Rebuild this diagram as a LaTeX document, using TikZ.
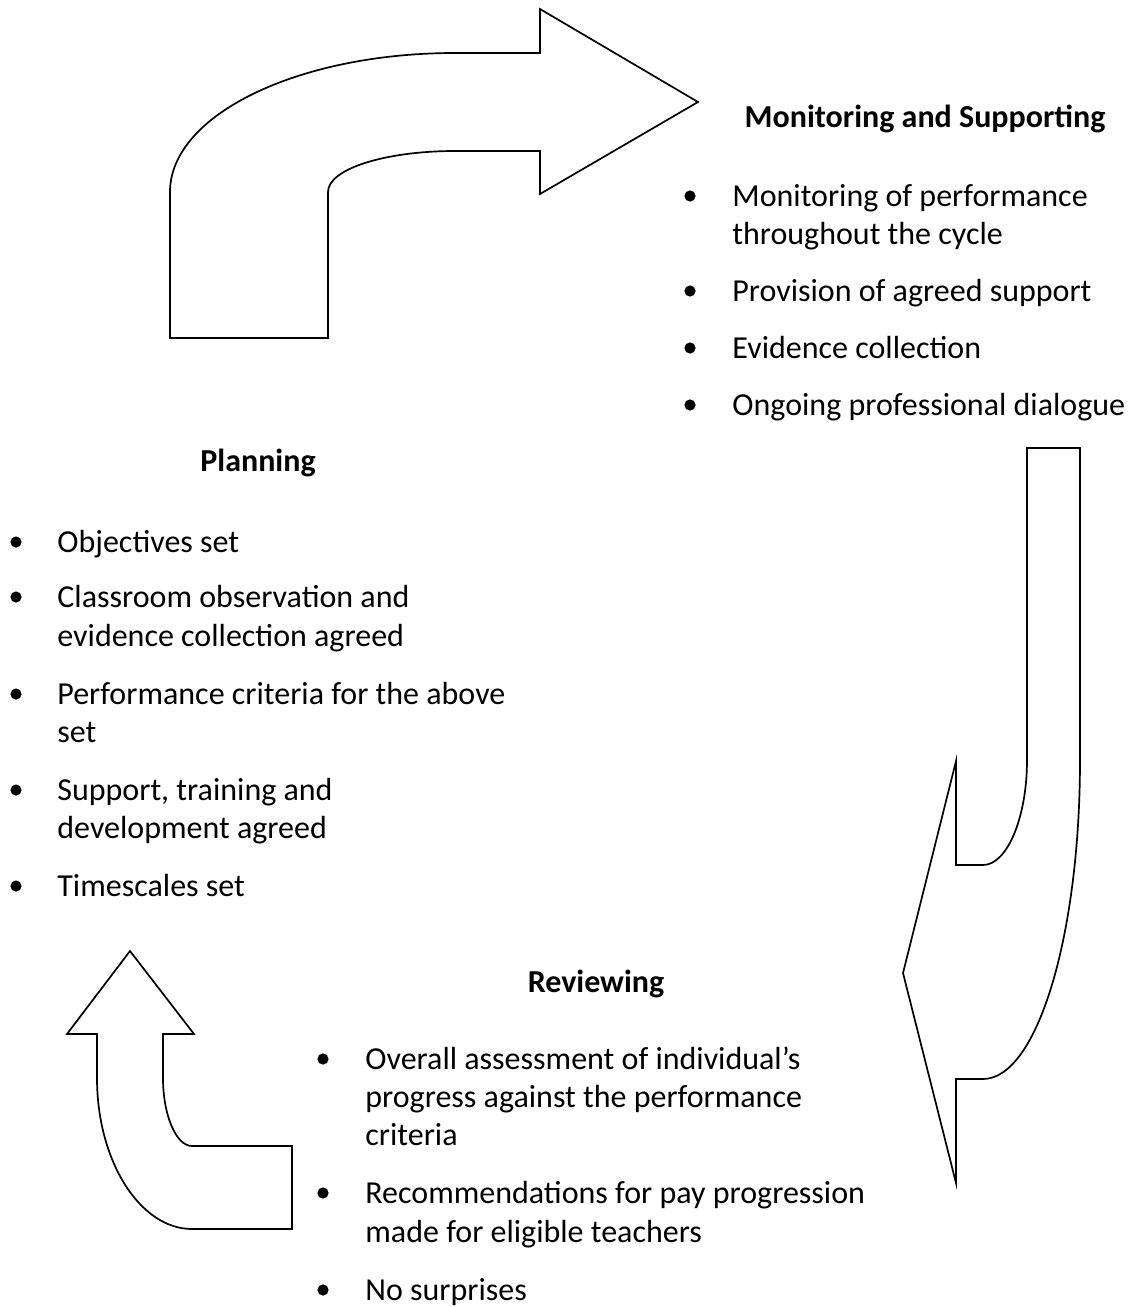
\documentclass[tikz,border=0pt]{standalone}
\usepackage{fontspec}
\setmainfont{Carlito}
\usetikzlibrary{arrows.meta,shapes}

\begin{document}
\begin{tikzpicture}[x=0.5pt,y=-0.5pt]
\useasboundingbox (0,0) rectangle (1138,1307);
\tikzstyle{bigarrow}=[draw=black,line width=0.85pt,line join=miter,fill=white]
\tikzstyle{head}=[inner sep=0pt,anchor=base,font=\fontsize{16}{19}\selectfont\bfseries]
\tikzstyle{txt}=[inner sep=0pt,anchor=base west,font=\fontsize{16}{19}\selectfont]
\tikzstyle{bul}=[circle,fill=black,inner sep=0pt,minimum size=5.6pt]
%top arrow (planning -> monitoring)
\draw[bigarrow] (170,338) -- (170,192) .. controls (170,115) and (298,53) .. (455,53) -- (540,53) -- (540,9) -- (698,102) -- (540,194) -- (540,151) -- (455,151) .. controls (385,151) and (328,169) .. (328,192) -- (328,338) -- cycle;
%right arrow (monitoring -> reviewing)
\draw[bigarrow] (1027,448) -- (1080,448) -- (1080,760) .. controls (1080,936) and (1037,1079) .. (983,1079) -- (956,1079) -- (956,1183) -- (903,973) -- (956,761) -- (956,865) -- (983,865) .. controls (1007,865) and (1027,818) .. (1027,760) -- cycle;
%bottom arrow (reviewing -> planning)
\draw[bigarrow] (130,951) -- (194,1034) -- (163,1034) -- (163,1078) .. controls (163,1115) and (176,1146) .. (192,1146) -- (292,1146) -- (292,1229) -- (192,1229) .. controls (140,1229) and (97,1161) .. (97,1078) -- (97,1034) -- (67,1034) -- cycle;

%monitoring
\node[head] (MS) at (925,127) {Monitoring and Supporting};
\node[bul] (b1) at (690,196) {};
\node[txt] (M1) at (732,206) {Monitoring of performance};
\node[txt] (M1b) at (732,244) {throughout the cycle};
\node[bul] (b2) at (690,291) {};
\node[txt] (M2) at (732,301) {Provision of agreed support};
\node[bul] (b3) at (690,348) {};
\node[txt] (M3) at (732,358) {Evidence collection};
\node[bul] (b4) at (690,405) {};
\node[txt] (M4) at (732,415) {Ongoing professional dialogue};

%planning
\node[head] (PL) at (258,471) {Planning};
\node[bul] (b5) at (16,542) {};
\node[txt] (P1) at (57,552) {Objectives set};
\node[bul] (b6) at (16,597) {};
\node[txt] (P2) at (57,607) {Classroom observation and};
\node[txt] (P2b) at (57,646) {evidence collection agreed};
\node[bul] (b7) at (16,694) {};
\node[txt] (P3) at (57,704) {Performance criteria for the above};
\node[txt] (P3b) at (57,742) {set};
\node[bul] (b8) at (16,790) {};
\node[txt] (P4) at (57,800) {Support, training and};
\node[txt] (P4b) at (57,838) {development agreed};
\node[bul] (b9) at (16,886) {};
\node[txt] (P5) at (57,896) {Timescales set};

%reviewing
\node[head] (RV) at (596,992) {Reviewing};
\node[bul] (b10) at (323,1059) {};
\node[txt] (R1) at (365,1069) {Overall assessment of individual’s};
\node[txt] (R1b) at (365,1107) {progress against the performance};
\node[txt] (R1c) at (365,1145) {criteria};
\node[bul] (b11) at (323,1193) {};
\node[txt] (R2) at (365,1203) {Recommendations for pay progression};
\node[txt] (R2b) at (365,1242) {made for eligible teachers};
\node[bul] (b12) at (323,1290) {};
\node[txt] (R3) at (365,1300) {No surprises};
\end{tikzpicture}
\end{document}
